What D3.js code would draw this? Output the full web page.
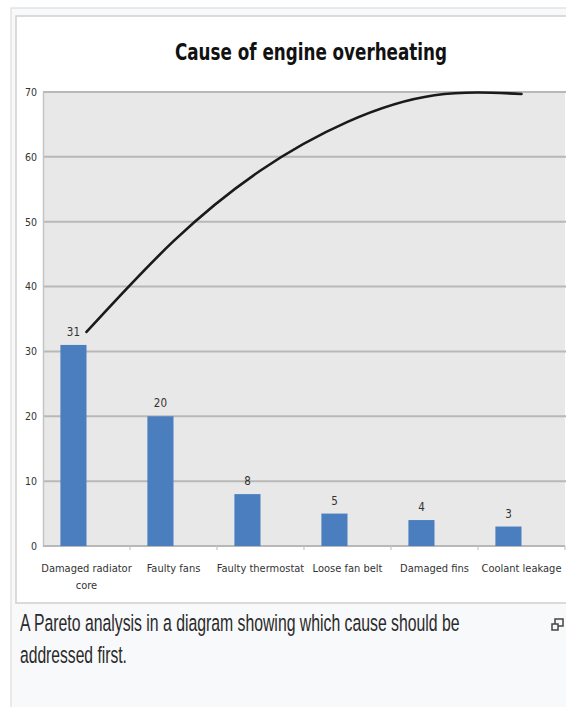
<!DOCTYPE html>
<html>
<head>
<meta charset="utf-8">
<script src="https://cdn.jsdelivr.net/npm/d3@7"></script>
<style>
  html, body { margin: 0; padding: 0; background: #ffffff; }
  svg { display: block; }
</style>
</head>
<body>
<svg id="chart" width="566" height="707"></svg>
<script>
// Causes, sorted by frequency
const categories = [
  "Damaged radiator core",
  "Faulty fans",
  "Faulty thermostat",
  "Loose fan belt",
  "Damaged fins",
  "Coolant leakage"
];
const categoryLines = [
  ["Damaged radiator", "core"],
  ["Faulty fans"],
  ["Faulty thermostat"],
  ["Loose fan belt"],
  ["Damaged fins"],
  ["Coolant leakage"]
];
const counts = [31, 20, 8, 5, 4, 3];
// smoothed cumulative trend, one point per category
const trendValues = [33, 47, 57.9, 65.4, 69.5, 69.7];
const yTicks = [0, 10, 20, 30, 40, 50, 60, 70];

const chartTitle = "Cause of engine overheating";
const captionLines = [
  "A Pareto analysis in a diagram showing which cause should be",
  "addressed first."
];
const captionWidths = [440, 107];

const svg = d3.select("#chart");

// page frame
svg.append("rect").attr("x", 11).attr("y", 8).attr("width", 560).attr("height", 710)
  .attr("fill", "#f8f9fa").attr("stroke", "#dcdcdc").attr("stroke-width", 1.2);
svg.append("rect").attr("x", 16).attr("y", 16).attr("width", 560).attr("height", 587)
  .attr("fill", "#ffffff").attr("stroke", "#cfcfcf").attr("stroke-width", 1.5);

const plot = { left: 43, right: 565, top: 92, bottom: 546 };

const x = d3.scaleBand().domain(categories).range([plot.left, plot.right]).padding(0);
const y = d3.scaleLinear().domain([0, 70]).range([plot.bottom, plot.top]);

// plot background
svg.append("rect")
  .attr("x", plot.left).attr("y", y(70))
  .attr("width", plot.right - plot.left).attr("height", y(0) - y(70))
  .attr("fill", "#e8e8e8");

// horizontal gridlines
svg.append("g").selectAll("line").data(yTicks.filter(d => d > 0)).join("line")
  .attr("x1", plot.left).attr("x2", 566)
  .attr("y1", d => y(d)).attr("y2", d => y(d))
  .attr("stroke", "#b8b8b8").attr("stroke-width", 2);

const condensed = "'DejaVu Sans Condensed', 'Liberation Sans Narrow', sans-serif";

// y axis
const yAxis = svg.append("g")
  .attr("transform", `translate(${plot.left},0)`)
  .call(d3.axisLeft(y).tickValues(yTicks).tickSize(0).tickPadding(6));
yAxis.select(".domain").attr("stroke", "#c4c4c4").attr("stroke-width", 1.5);
yAxis.selectAll("text")
  .attr("font-family", condensed)
  .attr("font-size", 10.5).attr("fill", "#333");

// x axis line with ticks at category boundaries
svg.append("line")
  .attr("x1", plot.left).attr("x2", plot.right)
  .attr("y1", y(0)).attr("y2", y(0))
  .attr("stroke", "#b8b8b8").attr("stroke-width", 2);
const bounds = categories.map(c => x(c)).concat([x(categories[categories.length - 1]) + x.bandwidth()]);
svg.append("g").selectAll("line").data(bounds.slice(1)).join("line")
  .attr("x1", d => d).attr("x2", d => d)
  .attr("y1", y(0)).attr("y2", y(0) + 4)
  .attr("stroke", "#c4c4c4").attr("stroke-width", 1.2);

// bars sit just left of each category centre
const barW = x.bandwidth() * 0.3;
const barX = c => x(c) + x.bandwidth() / 2 - barW;
svg.append("g").selectAll("rect").data(categories).join("rect")
  .attr("x", c => barX(c))
  .attr("y", (c, i) => y(counts[i]))
  .attr("width", barW)
  .attr("height", (c, i) => y(0) - y(counts[i]))
  .attr("fill", "#4a7ebf");

// value labels
svg.append("g").selectAll("text").data(categories).join("text")
  .attr("x", c => barX(c) + barW / 2)
  .attr("y", (c, i) => y(counts[i]) - 9)
  .attr("text-anchor", "middle")
  .attr("font-family", condensed)
  .attr("font-size", 11.5).attr("fill", "#333")
  .text((c, i) => counts[i]);

// category labels
const catG = svg.append("g");
categories.forEach((c, i) => {
  const t = catG.append("text")
    .attr("x", x(c) + x.bandwidth() / 2)
    .attr("y", 572)
    .attr("text-anchor", "middle")
    .attr("font-family", condensed)
    .attr("font-size", 11).attr("fill", "#333");
  categoryLines[i].forEach((ln, j) => {
    t.append("tspan")
      .attr("x", x(c) + x.bandwidth() / 2)
      .attr("dy", j === 0 ? 0 : 17)
      .text(ln);
  });
});

// trend curve through category centres
const line = d3.line()
  .x((d, i) => x(categories[i]) + x.bandwidth() / 2)
  .y(d => y(d))
  .curve(d3.curveNatural);
svg.append("path")
  .datum(trendValues)
  .attr("d", line)
  .attr("fill", "none")
  .attr("stroke", "#1a1a1a")
  .attr("stroke-width", 2.6)
  .attr("stroke-linecap", "round");

// title
svg.append("text")
  .attr("x", 311).attr("y", 60)
  .attr("text-anchor", "middle")
  .attr("font-family", "'DejaVu Sans Condensed', 'DejaVu Sans', sans-serif")
  .attr("font-weight", "bold")
  .attr("font-size", 23)
  .attr("fill", "#111")
  .attr("textLength", 272)
  .attr("lengthAdjust", "spacingAndGlyphs")
  .text(chartTitle);

// caption, narrowed horizontally to fit the caption column
captionLines.forEach((ln, i) => {
  const g = svg.append("g");
  const t = g.append("text")
    .attr("x", 0).attr("y", 0)
    .attr("font-family", "'Liberation Sans', Arial, sans-serif")
    .attr("font-size", 21)
    .attr("fill", "#2a2a2a")
    .text(ln);
  const natural = t.node().getComputedTextLength();
  const sx = captionWidths[i] / natural;
  g.attr("transform", `translate(20,${631 + i * 32}) scale(${sx},1.1)`);
});

// enlarge icon
const icon = svg.append("g").attr("fill", "none").attr("stroke", "#444").attr("stroke-width", 1.5);
icon.append("rect").attr("x", 555).attr("y", 619).attr("width", 8).attr("height", 7);
icon.append("rect").attr("x", 552).attr("y", 624).attr("width", 6).attr("height", 6).attr("fill", "#f8f9fa");
</script>
</body>
</html>
